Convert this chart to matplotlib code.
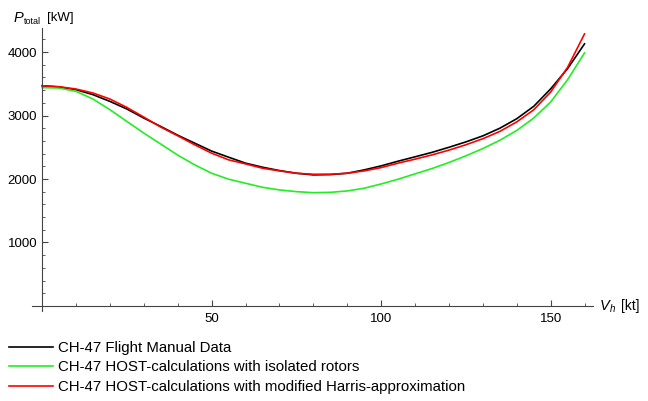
import matplotlib
matplotlib.use("Agg")
from matplotlib import pyplot as plt
from matplotlib.ticker import MultipleLocator

# speed [kt]
speed = [0, 5, 10, 15, 20, 25, 30, 35, 40, 45, 50, 55, 60, 65, 70, 75, 80, 85, 90, 95,
         100, 105, 110, 115, 120, 125, 130, 135, 140, 145, 150, 155, 160]

# total power [kW]
flight_manual = [3470, 3450, 3408, 3329, 3223, 3103, 2960, 2828, 2690, 2565, 2440, 2344,
                 2250, 2186, 2133, 2091, 2065, 2070, 2091, 2144, 2207, 2281, 2350, 2420,
                 2500, 2585, 2680, 2800, 2950, 3145, 3420, 3740, 4130]
isolated = [3440, 3434, 3381, 3260, 3092, 2907, 2723, 2550, 2376, 2223, 2091, 1997,
            1933, 1870, 1828, 1801, 1785, 1790, 1812, 1855, 1922, 1997, 2081, 2165,
            2260, 2365, 2480, 2610, 2765, 2960, 3213, 3565, 3987]
harris = [3470, 3455, 3418, 3355, 3260, 3128, 2975, 2818, 2681, 2539, 2407, 2302,
          2238, 2170, 2128, 2091, 2075, 2075, 2091, 2128, 2180, 2250, 2313, 2380,
          2455, 2540, 2635, 2750, 2900, 3090, 3370, 3760, 4287]

labels = ["CH-47 Flight Manual Data",
          "CH-47 HOST-calculations with isolated rotors",
          "CH-47 HOST-calculations with modified Harris-approximation"]

plt.rcParams["font.family"] = ["Liberation Sans", "DejaVu Sans"]

fig = plt.figure(figsize=(6.48, 4.01), dpi=100)
ax = fig.add_axes([32 / 648, 1 - 311 / 401, 561 / 648, 283 / 401])

l1, = ax.plot(speed, flight_manual, color="black", lw=1.2)
l2, = ax.plot(speed, isolated, color="#22ee22", lw=1.2)
l3, = ax.plot(speed, harris, color="#ff0000", lw=1.2)

ax.set_xlim(-3, 162.5)
ax.set_ylim(-80, 4380)

for side in ["top", "right"]:
    ax.spines[side].set_visible(False)
ax.spines["left"].set_position(("data", 0))
ax.spines["bottom"].set_position(("data", 0))
ax.spines["left"].set_color("#444444")
ax.spines["bottom"].set_color("#444444")

ax.xaxis.set_minor_locator(MultipleLocator(10))
ax.yaxis.set_minor_locator(MultipleLocator(200))
ax.set_xticks([50, 100, 150])
ax.set_yticks([1000, 2000, 3000, 4000])
ax.tick_params(axis="x", which="major", pad=5)
ax.tick_params(which="major", direction="in", length=4, width=0.8, labelsize=9.5,
               colors="#444444", labelcolor="black")
ax.tick_params(which="minor", direction="in", length=2, width=0.6, colors="#444444")

# axis labels, Mathematica style
fig.text(14 / 648, 1 - 18 / 401, "P", fontsize=10.5, va="center", ha="left", style="italic")
fig.text(24 / 648, 1 - 21 / 401, "total", fontsize=6.5, va="center", ha="left")
fig.text(47 / 648, 1 - 18 / 401, "[kW]", fontsize=9.5, va="center", ha="left")

fig.text(600 / 648, 1 - 306 / 401, "V", fontsize=10.5, va="center", ha="left", style="italic")
fig.text(610 / 648, 1 - 309 / 401, "h", fontsize=7, va="center", ha="left", style="italic")
fig.text(621 / 648, 1 - 306 / 401, "[kt]", fontsize=10, va="center", ha="left")

fig.legend([l1, l2, l3], labels, loc="upper left", bbox_to_anchor=(9 / 648, 1 - 341 / 401),
           frameon=False, fontsize=10.8, handlelength=2.9, handletextpad=0.35,
           labelspacing=0.36, borderaxespad=0, borderpad=0)

fig.savefig("out.png", dpi=100)
